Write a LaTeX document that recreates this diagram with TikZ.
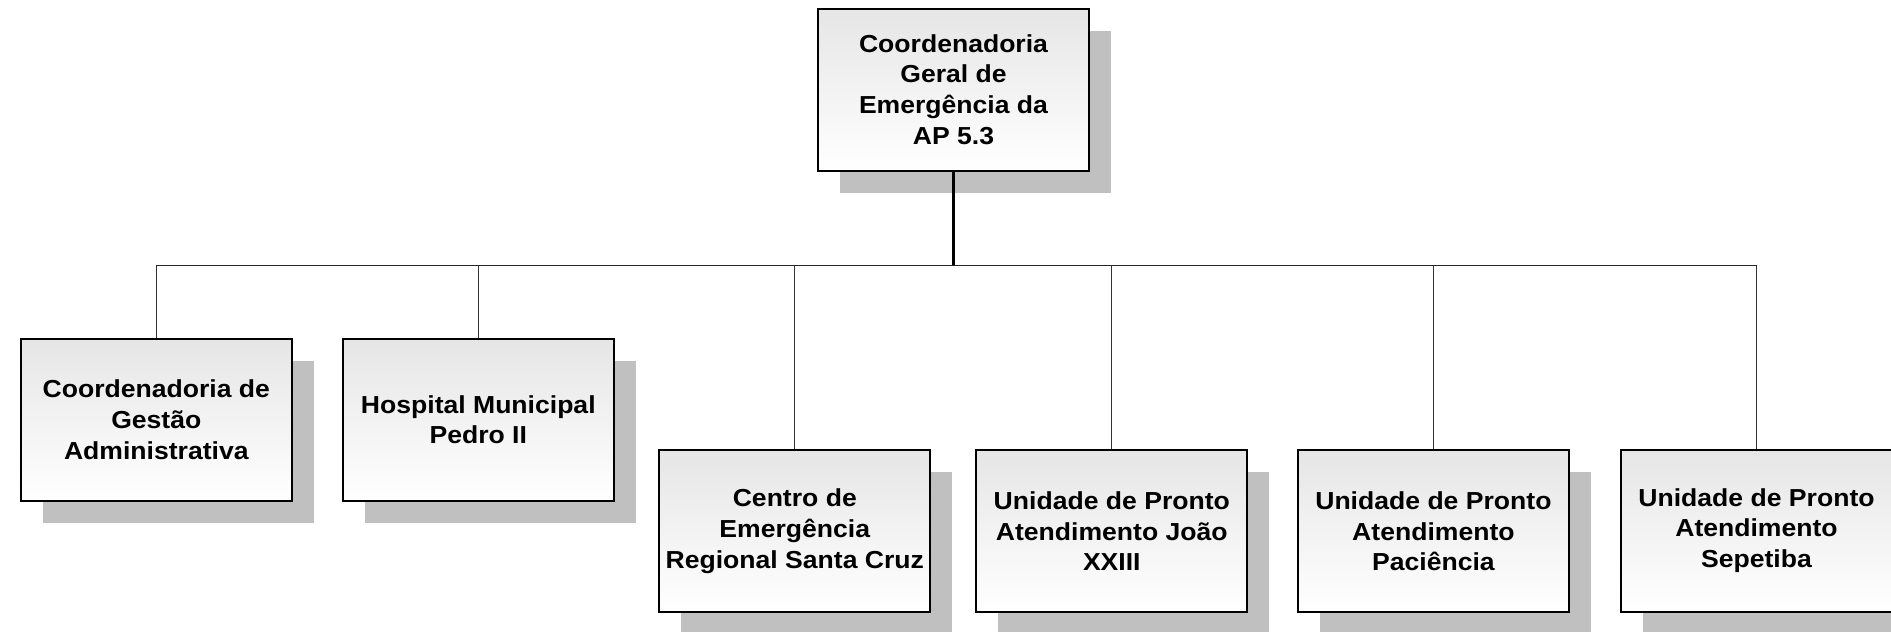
\documentclass[tikz,border=0pt]{standalone}
\usepackage{fontspec}
\setmainfont{Liberation Sans}[FakeStretch=1.08]
\usetikzlibrary{shadows}
\definecolor{shadowgray}{RGB}{192,192,192}
\tikzset{
  orgbox/.style={draw=black, line width=1pt, top color=black!10, bottom color=white,
    minimum width=135.5pt, minimum height=81pt, inner sep=0pt, align=center,
    font=\fontsize{12.3}{15.3}\selectfont\bfseries,
    drop shadow={shadow xshift=11pt, shadow yshift=-11pt, fill=shadowgray, opacity=1}},
  mainlink/.style={line width=1.1pt, black},
  buslink/.style={line width=0.8pt, black!85},
  childlink/.style={line width=0.5pt, black!80}
}
\begin{document}
\begin{tikzpicture}[x=0.5pt, y=-0.5pt]
\useasboundingbox (0,0) rectangle (1891,632);
\node[orgbox] (top) at (953.5,89.5) {Coordenadoria\\Geral de\\Emergência da\\AP 5.3};
\node[orgbox] (b1) at (156.3,419.7) {Coordenadoria de\\Gestão\\Administrativa};
\node[orgbox] (b2) at (478.3,419.7) {Hospital Municipal\\Pedro II};
\node[orgbox] (b3) at (794.8,531.2) {Centro de\\Emergência\\Regional Santa Cruz};
\node[orgbox] (b4) at (1111.8,531.2) {Unidade de Pronto\\Atendimento João\\XXIII};
\node[orgbox] (b5) at (1433.4,531.2) {Unidade de Pronto\\Atendimento\\Paciência};
\node[orgbox] (b6) at (1756.5,530.5) {Unidade de Pronto\\Atendimento\\Sepetiba};
\coordinate (bus) at (0,265.5);
\draw[mainlink] (top.south) -- (top.south |- bus);
\draw[buslink] (b1.north |- bus) -- (b6.north |- bus);
\foreach \c in {b1,b2,b3,b4,b5,b6}{
  \draw[childlink] (\c.north) -- (\c.north |- bus);
}
\end{tikzpicture}
\end{document}
